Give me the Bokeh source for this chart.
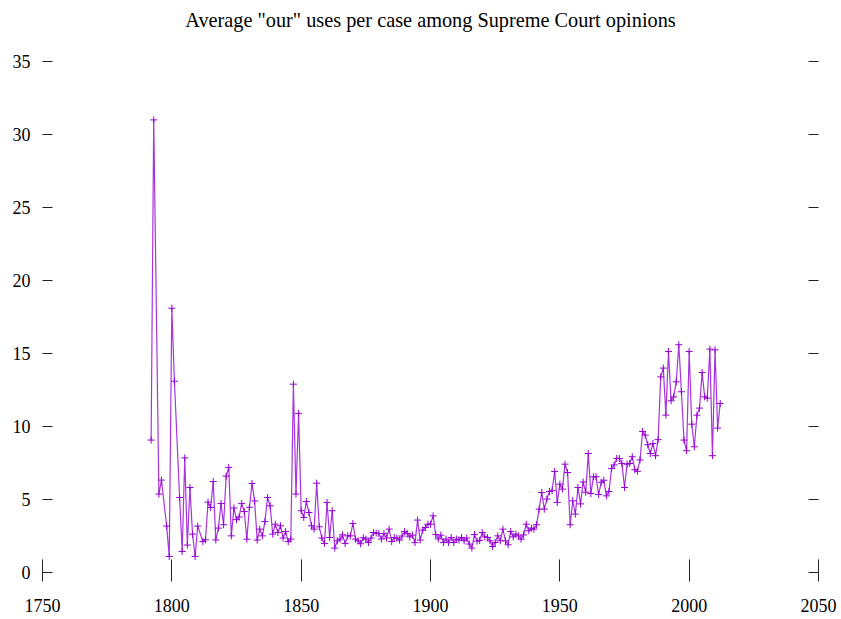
from bokeh.plotting import figure
from bokeh.models import Range1d, LinearAxis, FixedTicker, ColumnDataSource
from bokeh.embed import file_html
from bokeh.resources import INLINE

TITLE = 'Average "our" uses per case among Supreme Court opinions'

YEARS = [1792, 1793, 1795, 1796, 1798, 1799, 1800, 1801, 1803, 1804, 1805, 1806, 1807, 1808, 1809, 1810,
         1812, 1813, 1814, 1815, 1816, 1817, 1818, 1819, 1820, 1821, 1822, 1823, 1824, 1825, 1826, 1827,
         1828, 1829, 1830, 1831, 1832, 1833, 1834, 1835, 1836, 1837, 1838, 1839, 1840, 1841, 1842, 1843,
         1844, 1845, 1846, 1847, 1848, 1849, 1850, 1851, 1852, 1853, 1854, 1855, 1856, 1857, 1858, 1859,
         1860, 1861, 1862, 1863, 1864, 1865, 1866, 1867, 1868, 1869, 1870, 1871, 1872, 1873, 1874, 1875,
         1876, 1877, 1878, 1879, 1880, 1881, 1882, 1883, 1884, 1885, 1886, 1887, 1888, 1889, 1890, 1891,
         1892, 1893, 1894, 1895, 1896, 1897, 1898, 1899, 1900, 1901, 1902, 1903, 1904, 1905, 1906, 1907,
         1908, 1909, 1910, 1911, 1912, 1913, 1914, 1915, 1916, 1917, 1918, 1919, 1920, 1921, 1922, 1923,
         1924, 1925, 1926, 1927, 1928, 1929, 1930, 1931, 1932, 1933, 1934, 1935, 1936, 1937, 1938, 1939,
         1940, 1941, 1942, 1943, 1944, 1945, 1946, 1947, 1948, 1949, 1950, 1951, 1952, 1953, 1954, 1955,
         1956, 1957, 1958, 1959, 1960, 1961, 1962, 1963, 1964, 1965, 1966, 1967, 1968, 1969, 1970, 1971,
         1972, 1973, 1974, 1975, 1976, 1977, 1978, 1979, 1980, 1981, 1982, 1983, 1984, 1985, 1986, 1987,
         1988, 1989, 1990, 1991, 1992, 1993, 1994, 1995, 1996, 1997, 1998, 1999, 2000, 2001, 2002, 2003,
         2004, 2005, 2006, 2007, 2008, 2009, 2010, 2011, 2012]

AVG_OUR = [9.07, 31.0, 5.37, 6.33, 3.18, 1.1, 18.1, 13.1, 5.14, 1.44, 7.85, 1.88, 5.82, 2.63, 1.1, 3.18,
           2.12, 2.24, 4.82, 4.45, 6.23, 2.23, 3.04, 4.73, 3.27, 6.6, 7.2, 2.51, 4.42, 3.62, 3.8, 4.72,
           4.18, 2.28, 4.47, 6.1, 4.9, 2.22, 2.97, 2.51, 3.49, 5.14, 4.57, 2.63, 3.31, 2.74, 3.2, 2.36,
           2.81, 2.12, 2.29, 12.9, 5.37, 10.9, 4.23, 3.77, 4.86, 4.11, 3.2, 2.97, 6.12, 3.13, 2.36, 1.99,
           4.8, 2.4, 4.23, 1.67, 2.17, 2.29, 2.58, 1.99, 2.51, 2.51, 3.36, 2.29, 2.17, 1.97, 2.38, 2.29,
           2.05, 2.36, 2.74, 2.7, 2.67, 2.29, 2.67, 2.36, 2.97, 2.12, 2.4, 2.36, 2.22, 2.5, 2.81, 2.67,
           2.44, 2.56, 2.05, 3.59, 2.22, 2.9, 3.08, 3.31, 3.31, 3.88, 2.6, 2.3, 2.56, 2.05, 2.29, 2.05,
           2.4, 2.05, 2.29, 2.22, 2.4, 2.17, 2.36, 1.95, 1.67, 2.6, 2.15, 2.2, 2.74, 2.44, 2.4, 2.17,
           1.78, 2.05, 2.51, 2.17, 2.97, 2.17, 1.9, 2.81, 2.44, 2.63, 2.51, 2.28, 2.58, 3.31, 2.86, 3.04,
           2.97, 3.27, 4.34, 5.48, 4.34, 5.03, 5.55, 5.6, 6.92, 4.8, 6.05, 5.71, 7.42, 6.85, 3.27, 4.91,
           4.0, 5.82, 4.7, 6.2, 5.5, 8.15, 5.41, 6.55, 6.57, 5.34, 6.18, 6.32, 5.25, 5.55, 7.12, 7.37,
           7.81, 7.81, 7.47, 5.82, 7.42, 7.47, 7.93, 7.04, 6.93, 7.71, 9.66, 9.41, 8.75, 8.15, 8.84, 8.0,
           9.1, 13.4, 14.0, 10.78, 15.14, 11.76, 12.03, 13.06, 15.6, 12.38, 9.07, 8.34, 15.14, 10.16, 8.61, 10.78,
           11.26, 13.7, 12.03, 11.94, 15.3, 8.0, 15.25, 9.89, 11.58]

X_TICKS = [1750, 1800, 1850, 1900, 1950, 2000, 2050]
Y_TICKS = [0, 5, 10, 15, 20, 25, 30, 35]

FONT = "Liberation Serif"
COLOR = "#9400D3"

src = ColumnDataSource(data=dict(year=YEARS, avg=AVG_OUR))

p = figure(width=841, height=619, output_backend="svg", toolbar_location=None,
           x_range=Range1d(1750, 2050), y_range=Range1d(0, 35),
           x_axis_type=None, y_axis_type=None, title=None,
           min_border_left=42, min_border_right=23, min_border_top=61, min_border_bottom=47)
p.outline_line_color = None
p.background_fill_color = "white"
p.border_fill_color = "white"

# the chart title, carried by a tickless top axis so its distance from the frame is exact
top_axis = LinearAxis(ticker=FixedTicker(ticks=[]), axis_label=TITLE)
top_axis.axis_line_color = None
top_axis.major_tick_in = 0
top_axis.major_tick_out = 0
top_axis.major_tick_line_color = None
top_axis.minor_tick_line_color = None
top_axis.axis_label_text_font = FONT
top_axis.axis_label_text_font_size = "20.3px"
top_axis.axis_label_text_font_style = "normal"
top_axis.axis_label_text_color = "black"
top_axis.axis_label_standoff = 31
p.add_layout(top_axis, "above")

xaxis = LinearAxis(ticker=FixedTicker(ticks=X_TICKS))
xaxis.axis_line_color = None
xaxis.major_tick_in = 13
xaxis.major_tick_out = 9
xaxis.major_tick_line_color = "#222222"
xaxis.minor_tick_line_color = None
xaxis.major_label_text_font = FONT
xaxis.major_label_text_font_size = "18px"
xaxis.major_label_text_color = "black"
xaxis.major_label_standoff = 17
p.add_layout(xaxis, "below")

yaxis = LinearAxis(ticker=FixedTicker(ticks=Y_TICKS))
yaxis.axis_line_color = None
yaxis.major_tick_in = 10
yaxis.major_tick_out = 0
yaxis.major_tick_line_color = "#222222"
yaxis.minor_tick_line_color = None
yaxis.major_label_text_font = FONT
yaxis.major_label_text_font_size = "18px"
yaxis.major_label_text_color = "black"
yaxis.major_label_standoff = 12
p.add_layout(yaxis, "left")

yaxis2 = LinearAxis(ticker=FixedTicker(ticks=Y_TICKS))
yaxis2.axis_line_color = None
yaxis2.major_tick_in = 10
yaxis2.major_tick_out = 0
yaxis2.major_tick_line_color = "#222222"
yaxis2.minor_tick_line_color = None
yaxis2.major_label_overrides = {t: "" for t in Y_TICKS}
yaxis2.major_label_standoff = 0
p.add_layout(yaxis2, "right")

p.line("year", "avg", source=src, line_color=COLOR, line_width=1.2, line_alpha=0.8)
p.scatter("year", "avg", source=src, marker="cross", size=7, line_color=COLOR, line_width=1)

open("out.html", "w").write(file_html(p, INLINE))
